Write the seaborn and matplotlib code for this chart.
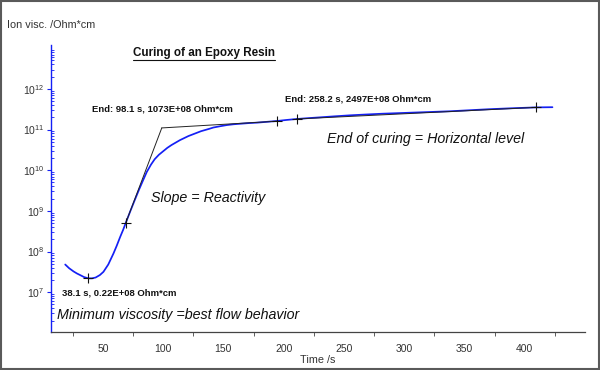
import numpy as np
import matplotlib
matplotlib.use("Agg")
import matplotlib.pyplot as plt
import seaborn as sns
from matplotlib.lines import Line2D
from matplotlib.patches import Rectangle
from matplotlib.ticker import FixedLocator, LogLocator, NullFormatter

sns.set_style("white")
plt.rcParams["font.family"] = ["Liberation Sans", "DejaVu Sans"]

# measured ion viscosity curve (time in s, log10 of Ohm*cm)
time_s = [18.8, 22, 25.7, 28.5, 31.2, 34.5, 38.1, 41, 44, 47.5, 50.5, 54.5, 58.8,
          61.5, 64.4, 66.8, 69.1, 72.5, 76, 80, 83.5, 86.5, 90, 93, 96.5, 100.2,
          103.5, 107, 110.5, 114, 117.5, 121, 124.5, 128, 131.5, 135, 138.5,
          141.7, 147, 152.8, 158.5, 165, 171.5, 178, 186, 194.2, 202, 210.8,
          220, 230, 242, 255, 268, 282, 296, 310, 324, 338, 354, 370, 390,
          409, 423]
log_visc = [7.68, 7.59, 7.51, 7.46, 7.42, 7.37, 7.34, 7.34, 7.36, 7.42, 7.50, 7.68,
            7.95, 8.14, 8.36, 8.53, 8.71, 8.97, 9.23, 9.52, 9.76, 9.96, 10.14, 10.27,
            10.38, 10.47, 10.55, 10.62, 10.68, 10.74, 10.79, 10.84, 10.88, 10.92,
            10.96, 10.99, 11.02, 11.05, 11.08, 11.11, 11.13, 11.145, 11.16, 11.17,
            11.19, 11.21, 11.235, 11.26, 11.28, 11.30, 11.325, 11.35, 11.37, 11.39,
            11.405, 11.42, 11.435, 11.45, 11.475, 11.50, 11.525, 11.545, 11.55]

# tangent construction lines
tan1_t = [69.1, 98.9]
tan1_v = [8.71, 11.04]
tan2_t = [98.9, 194.2]
tan2_v = [11.04, 11.205]
tan3_t = [210.8, 409]
tan3_v = [11.26, 11.545]

# marked points
mark_t = [38.1, 69.1, 194.2, 210.8, 409]
mark_v = [7.34, 8.71, 11.205, 11.26, 11.545]

y_ticks = [7, 8, 9, 10, 11, 12]
x_ticks = [50, 100, 150, 200, 250, 300, 350, 400]
x_minor = [25, 75, 125, 175, 225, 275, 325, 375, 425]

curve = dict(t=time_s, v=10 ** np.array(log_visc))
blue = "#1420f5"
txt = "#333333"

fig = plt.figure(figsize=(6, 3.7), dpi=100)
ax = fig.add_axes([51 / 600, 1 - 332 / 370, 534 / 600, 287 / 370])

sns.lineplot(x=curve["t"], y=curve["v"], ax=ax, color=blue, linewidth=1.25,
             sort=False, estimator=None)
for tt, vv in [(tan1_t, tan1_v), (tan2_t, tan2_v), (tan3_t, tan3_v)]:
    ax.plot(tt, 10 ** np.array(vv), color="#222222", linewidth=0.7)
sns.scatterplot(x=mark_t, y=10 ** np.array(mark_v), ax=ax, marker="+",
                color="#111111", s=45, linewidth=0.8, zorder=5)

ax.set_yscale("log")
ax.set_xlim(7, 450)
ax.set_ylim(10 ** 6.02, 10 ** 13.08)

ax.yaxis.set_major_locator(FixedLocator([10.0 ** k for k in y_ticks]))
ax.yaxis.set_minor_locator(LogLocator(base=10, subs=np.arange(2, 10)))
ax.yaxis.set_minor_formatter(NullFormatter())
ax.xaxis.set_major_locator(FixedLocator(x_ticks))
ax.xaxis.set_minor_locator(FixedLocator(x_minor))

ax.tick_params(axis="y", which="major", direction="out", length=3, width=0.8,
               color=blue, labelsize=7.5, labelcolor=txt, pad=1.5, left=True)
ax.tick_params(axis="y", which="minor", direction="in", length=2, width=0.6,
               color=blue, left=True)
ax.tick_params(axis="x", which="major", length=0, labelsize=7.5, labelcolor=txt, pad=9)
ax.tick_params(axis="x", which="minor", direction="out", length=3, width=0.6,
               color="#444444", bottom=True)

for s in ["top", "right"]:
    ax.spines[s].set_visible(False)
ax.spines["left"].set_color(blue)
ax.spines["left"].set_linewidth(1.0)
ax.spines["bottom"].set_color("#444444")
ax.spines["bottom"].set_linewidth(0.9)
ax.set_xlabel("")
ax.set_ylabel("")


# texts in figure pixel coordinates
def ftext(x, y, s, color="#111111", **kw):
    return fig.text(x / 600, 1 - y / 370, s, va="center", ha="left", color=color, **kw)


ftext(7, 25, "Ion visc. /Ohm*cm", fontsize=7.8, color=txt)
title = ftext(133, 53, "Curing of an Epoxy Resin", fontsize=8.4, fontweight="bold")
ftext(92, 109, "End: 98.1 s, 1073E+08 Ohm*cm", fontsize=6.8, fontweight="bold")
ftext(285, 99, "End: 258.2 s, 2497E+08 Ohm*cm", fontsize=6.8, fontweight="bold")
ftext(327, 139, "End of curing = Horizontal level", fontsize=10.3, style="italic")
ftext(151, 198, "Slope = Reactivity", fontsize=10.3, style="italic")
ftext(62, 293, "38.1 s, 0.22E+08 Ohm*cm", fontsize=6.8, fontweight="bold")
ftext(57, 315, "Minimum viscosity =best flow behavior", fontsize=10.3, style="italic")
fig.text(318 / 600, 1 - 360 / 370, "Time /s", ha="center", va="center",
         fontsize=7.8, color=txt)

# underline the title
fig.canvas.draw()
bb = title.get_window_extent().transformed(fig.transFigure.inverted())
fig.add_artist(Line2D([bb.x0, bb.x1], [bb.y0 - 0.004, bb.y0 - 0.004],
                      transform=fig.transFigure, color="#111111", linewidth=0.8))

# outer frame
fig.add_artist(Rectangle((0.002, 0.003), 0.996, 0.994, transform=fig.transFigure,
                         fill=False, edgecolor="#5a5a5a", linewidth=1.5))

fig.savefig("out.png", dpi=100)
